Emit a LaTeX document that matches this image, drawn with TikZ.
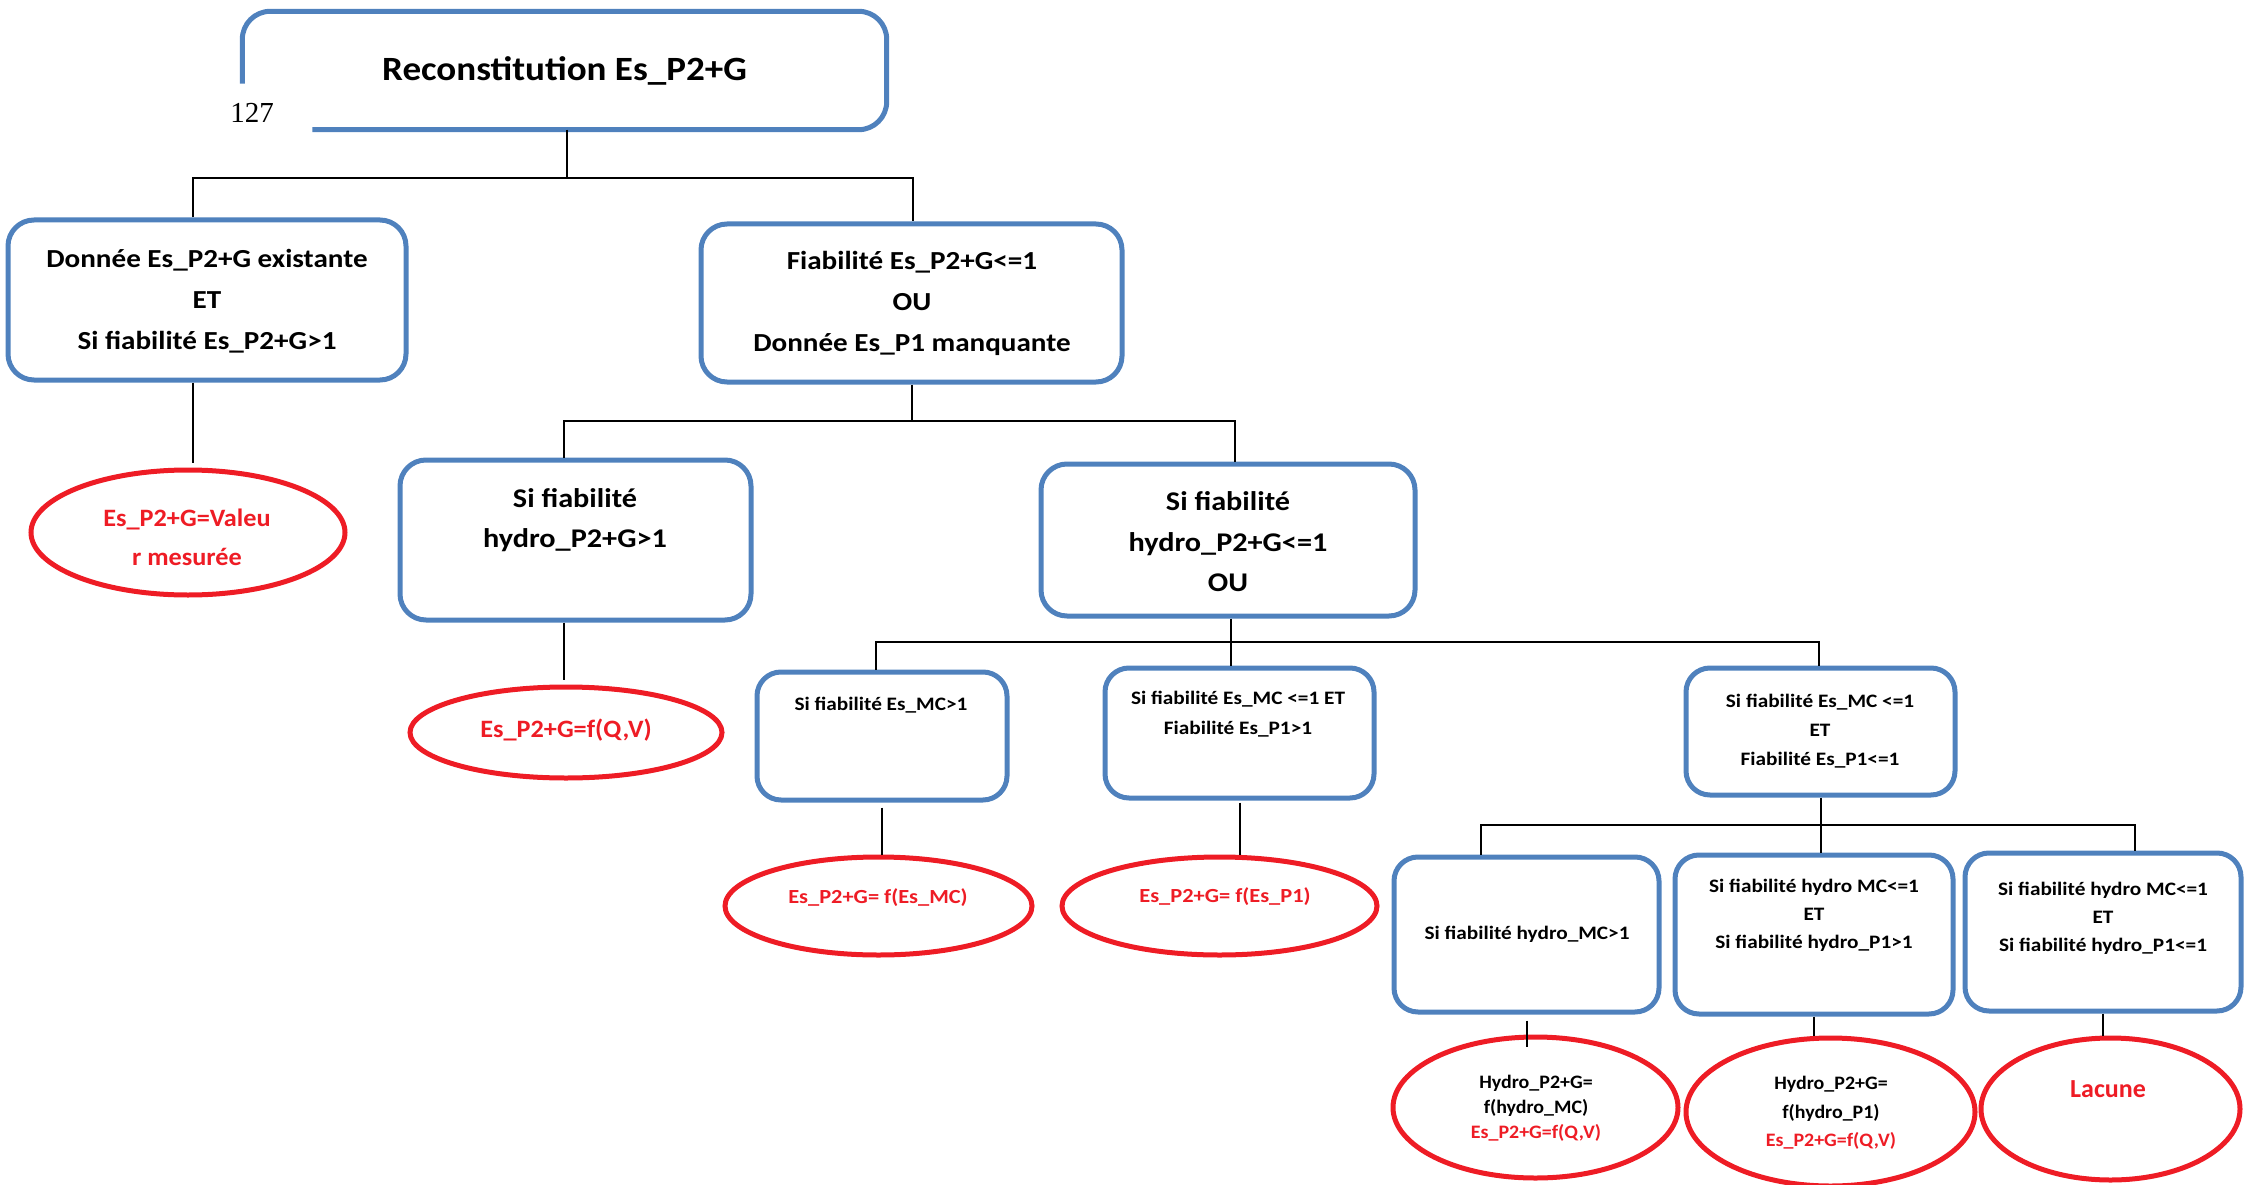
\documentclass[tikz,border=0pt]{standalone}
\usepackage{fontspec}
\setmainfont{Carlito}
\newfontfamily\timesf{Liberation Serif}
\newfontfamily\bxf{Carlito}[FakeStretch=1.12]
\newfontfamily\ttlf{Carlito}[FakeStretch=1.09]
\newfontfamily\ovf{Carlito}[FakeStretch=1.05]
\usetikzlibrary{shapes.geometric,calc}
\definecolor{boxblue}{HTML}{4F81BD}
\definecolor{ovred}{HTML}{EE1C25}
\newcommand\fsz[2]{\fontsize{#1pt}{#2pt}\selectfont}
\tikzset{
 bx/.style={draw=boxblue, line width=5pt, rounded corners=26pt, rectangle, inner sep=0pt},
 ov/.style={draw=ovred, line width=5pt, ellipse, inner sep=0pt},
 tx/.style={align=center, inner sep=0pt},
 rtx/.style={align=center, inner sep=0pt, text=ovred},
 ln/.style={draw=black, line width=2pt},
}
\begin{document}
\begin{tikzpicture}[x=1pt,y=-1pt]
\useasboundingbox (0,0) rectangle (2246,1185);
% root
\node[rectangle, minimum width=644pt, minimum height=118pt, inner sep=0pt, font=\ttlf\bfseries\fsz{34}{40}] (root) at (564.5,70.5) {Reconstitution Es\_P2+G};
\draw[boxblue, line width=5pt, rounded corners=28pt] ($(root.south west)+(0,-46)$) -- (root.north west) -- (root.north east) -- (root.south east) -- ($(root.south west)+(70,0)$);
\node[font=\timesf\fsz{29}{30}, inner sep=0pt] (pg) at (252,113) {127};
% level 1
\node[bx, minimum width=398pt, minimum height=160pt] (A) at (207,300) {};
\node[tx, font=\bxf\bfseries\fsz{26}{41}] (At) at (207,301) {Donnée Es\_P2+G existante\\ET\\Si fiabilité Es\_P2+G>1};
\node[bx, minimum width=421pt, minimum height=158pt] (B) at (911.5,303) {};
\node[tx, font=\bxf\bfseries\fsz{26}{41}] (Bt) at (912,303) {Fiabilité Es\_P2+G<=1\\OU\\Donnée Es\_P1 manquante};
% E1
\node[ov, minimum width=314pt, minimum height=125pt] (E1) at (188,532.5) {};
\node[rtx, font=\ovf\bfseries\fsz{25}{39}] (E1t) at (187,537) {Es\_P2+G=Valeu\\r mesurée};
% level 2
\node[bx, minimum width=351pt, minimum height=160pt] (C) at (575.5,540) {};
\node[tx, font=\bxf\bfseries\fsz{27}{40}] (Ct) at (575,520) {Si fiabilité\\hydro\_P2+G>1};
\node[ov, minimum width=312pt, minimum height=91pt] (E2) at (566,732.5) {};
\node[rtx, font=\ovf\bfseries\fsz{25}{30}] (E2t) at (566,730) {Es\_P2+G=f(Q,V)};
\node[bx, minimum width=374pt, minimum height=152pt] (D) at (1228,540) {};
\node[tx, font=\bxf\bfseries\fsz{27}{40.5}] (Dt) at (1228,542) {Si fiabilité\\hydro\_P2+G<=1\\OU};
% level 3
\node[bx, rounded corners=24pt, minimum width=250pt, minimum height=128pt] (F) at (882,736) {};
\node[tx, font=\bxf\bfseries\fsz{19}{29}] (Ft) at (881,705) {Si fiabilité Es\_MC>1};
\node[bx, rounded corners=24pt, minimum width=269pt, minimum height=130pt] (G) at (1239.5,733) {};
\node[tx, font=\bxf\bfseries\fsz{19}{30}] (Gt) at (1238,714) {Si fiabilité Es\_MC <=1 ET\\Fiabilité Es\_P1>1};
\node[bx, rounded corners=24pt, minimum width=269pt, minimum height=127pt] (H) at (1820.5,731.5) {};
\node[tx, font=\bxf\bfseries\fsz{19}{29}] (Ht) at (1820,731) {Si fiabilité Es\_MC <=1\\ET\\Fiabilité Es\_P1<=1};
\node[ov, minimum width=307pt, minimum height=98pt] (E3) at (878.5,906) {};
\node[rtx, font=\bxf\bfseries\fsz{20}{24}] (E3t) at (878,898) {Es\_P2+G= f(Es\_MC)};
\node[ov, minimum width=315pt, minimum height=98pt] (E4) at (1219.5,906) {};
\node[rtx, font=\bxf\bfseries\fsz{20}{24}] (E4t) at (1225,897) {Es\_P2+G= f(Es\_P1)};
% level 4
\node[bx, rounded corners=24pt, minimum width=265pt, minimum height=155pt] (I) at (1526.5,934.5) {};
\node[tx, font=\bxf\bfseries\fsz{19}{28}] (It) at (1527,934) {Si fiabilité hydro\_MC>1};
\node[bx, rounded corners=24pt, minimum width=278pt, minimum height=159pt] (J) at (1814,934.5) {};
\node[tx, font=\bxf\bfseries\fsz{19}{28}] (Jt) at (1814,915) {Si fiabilité hydro MC<=1\\ET\\Si fiabilité hydro\_P1>1};
\node[bx, rounded corners=24pt, minimum width=276pt, minimum height=158pt] (K) at (2103,932) {};
\node[tx, font=\bxf\bfseries\fsz{19}{28}] (Kt) at (2103,918) {Si fiabilité hydro MC<=1\\ET\\Si fiabilité hydro\_P1<=1};
\node[ov, minimum width=285pt, minimum height=141pt] (E5) at (1535.5,1107.5) {};
\node[tx, font=\ovf\bfseries\fsz{19}{25}] (E5t) at (1536,1108) {Hydro\_P2+G=\\f(hydro\_MC)\\\textcolor{ovred}{Es\_P2+G=f(Q,V)}};
\node[ov, minimum width=289pt, minimum height=148pt] (E6) at (1830.5,1112) {};
\node[tx, font=\ovf\bfseries\fsz{19}{28.5}] (E6t) at (1831,1113) {Hydro\_P2+G=\\f(hydro\_P1)\\\textcolor{ovred}{Es\_P2+G=f(Q,V)}};
\node[ov, minimum width=259pt, minimum height=142pt] (E7) at (2110.5,1109) {};
\node[rtx, font=\bfseries\fsz{26}{30}] (E7t) at (2108,1089) {Lacune};
% connectors
\coordinate (b1) at (567,178); \coordinate (b1l) at (193,178); \coordinate (b1r) at (913,178);
\draw[ln] (b1 |- root.south) -- (b1);
\draw[ln] (b1l |- A.north) -- (b1l) -- (b1r) -- (b1r |- B.north);
\draw[ln, shorten >=5pt] (b1l |- A.south) -- (b1l |- E1.north);
\coordinate (b2) at (912,421); \coordinate (b2l) at (564,421); \coordinate (b2r) at (1235,421);
\draw[ln] (b2 |- B.south) -- (b2);
\draw[ln] (b2l |- C.north) -- (b2l) -- (b2r) -- (b2r |- D.north);
\draw[ln, shorten >=5pt] (b2l |- C.south) -- (b2l |- E2.north);
\coordinate (b3) at (1231,642); \coordinate (b3l) at (876,642); \coordinate (b3r) at (1819,642);
\draw[ln] (b3 |- D.south) -- (b3);
\draw[ln] (b3l |- F.north) -- (b3l) -- (b3r) -- (b3r |- H.north);
\draw[ln] (b3) -- (b3 |- G.north);
\draw[ln, shorten <=5pt] (F.south) -- (F.south |- E3.north);
\draw[ln, shorten <=2pt] (G.south) -- (G.south |- E4.north);
\coordinate (b4) at (1821,825); \coordinate (b4l) at (1481,825); \coordinate (b4r) at (2135,825);
\draw[ln] (b4 |- H.south) -- (b4);
\draw[ln] (b4l |- I.north) -- (b4l) -- (b4r) -- (b4r |- K.north);
\draw[ln] (b4) -- (b4 |- J.north);
\draw[ln, shorten <=6pt, shorten >=-12pt] (I.south) -- (I.south |- E5.north);
\draw[ln] (J.south) -- (J.south |- E6.north);
\draw[ln] (K.south) -- (K.south |- E7.north);
\end{tikzpicture}
\end{document}
